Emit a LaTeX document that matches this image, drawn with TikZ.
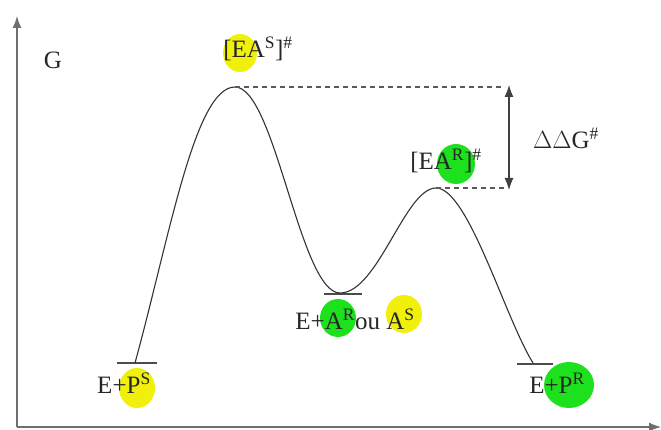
\documentclass[tikz,border=0pt]{standalone}
\usepackage{fontspec}
\setmainfont{Liberation Serif}
\usetikzlibrary{arrows.meta}
\definecolor{hlyellow}{RGB}{240,240,10}
\definecolor{hlgreen}{RGB}{30,225,30}
\definecolor{axisgray}{RGB}{110,110,110}
\tikzset{
  lbl/.style={font=\fontsize{25}{27}\selectfont, inner sep=0pt, text=black!85},
  blobY/.style={fill=hlyellow, draw=none},
  blobG/.style={fill=hlgreen, draw=none},
  curve/.style={line width=1.1pt, black!80},
  level/.style={line width=1.3pt, black!70},
  dashline/.style={line width=1.1pt, black!65, dash pattern=on 5pt off 4pt},
  axis/.style={line width=1.3pt, axisgray, -{Latex[length=12pt,width=9pt]}}
}
\begin{document}
\begin{tikzpicture}[x=1pt,y=-1pt]
\useasboundingbox (0,0) rectangle (661,430);
% axes
\coordinate (O) at (17,427);
\coordinate (Ytop) at (17,16);
\coordinate (Xend) at (661,427);
\draw[axis] (O) -- (Ytop);
\draw[axis] (O) -- (Xend);
% key points
\coordinate (P1) at (135,363);
\coordinate (T1) at (235,87);
\coordinate (M) at (340,293);
\coordinate (T2) at (436,188);
\coordinate (P2) at (533,363);
% highlight blobs
\fill[blobY] (240,53) ellipse (17 and 19);
\fill[blobG] (456,164) ellipse (19 and 20);
\fill[blobG] (338,318) ellipse (18 and 19);
\fill[blobY] (404,314) ellipse (18 and 19);
\fill[blobY] (137,388) ellipse (18 and 20);
\fill[blobG] (569,385) ellipse (25 and 23);
% energy levels
\draw[level] (117,363) -- (157,363);
\draw[level] (324,294) -- (362,294);
\draw[level] (517,364) -- (553,364);
% curve
\draw[curve] (P1) .. controls (170,235) and (195,87) .. (T1)
  .. controls (275,87) and (300,293) .. (M)
  .. controls (378,293) and (405,188) .. (T2)
  .. controls (468,188) and (505,318) .. (P2);
% dashed lines and arrow
\coordinate (D1) at (505,87);
\coordinate (D2) at (505,188);
\draw[dashline] (T1) -- (D1);
\draw[dashline] (T2) -- (D2);
\draw[line width=1.1pt, black!75, {Latex[length=12pt,width=9pt]}-{Latex[length=12pt,width=9pt]}] (509,85) -- (509,190);
% labels
\node[lbl] (g) at (53,60) {G};
\node[lbl] (ts1) at (258,49) {[EA\textsuperscript{S}]\textsuperscript{\#}};
\node[lbl] (ts2) at (446,161) {[EA\textsuperscript{R}]\textsuperscript{\#}};
\node[lbl] (ddg) at (566,138) {$\Delta\Delta$G\textsuperscript{\#}};
\node[lbl] (mid) at (355,319) {E+A\textsuperscript{R}ou A\textsuperscript{S}};
\node[lbl] (ps) at (124,383) {E+P\textsuperscript{S}};
\node[lbl] (pr) at (557,383) {E+P\textsuperscript{R}};
\end{tikzpicture}
\end{document}
